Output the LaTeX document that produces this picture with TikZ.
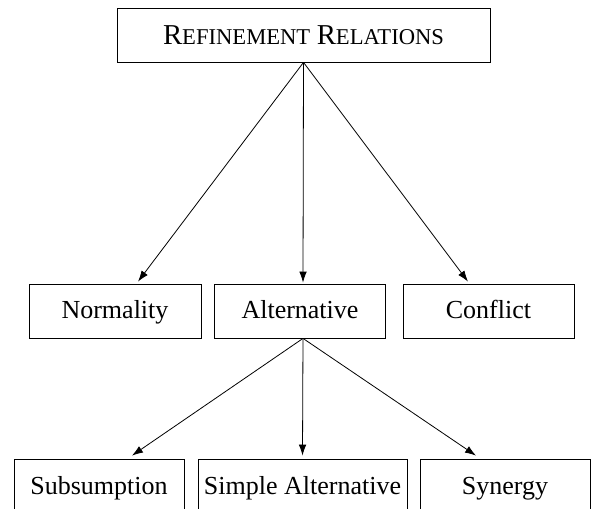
\documentclass[tikz,border=0pt]{standalone}
\usepackage{fontspec}
\setmainfont{Liberation Serif}
\usetikzlibrary{arrows.meta}
\newcommand{\bigsc}[1]{{\fontsize{14.4}{16}\selectfont #1}}
\newcommand{\fakesc}[1]{{\fontsize{11.3}{13}\selectfont #1}}
\tikzset{
  relbox/.style={draw, thin, inner sep=0pt, minimum height=27pt,
    text height=9pt, text depth=2pt, font=\fontsize{13}{15}\selectfont},
  relarrow/.style={thin, -{Latex[length=5.5pt,width=3.8pt]}}
}
\begin{document}
\begin{tikzpicture}[x=0.5pt, y=-0.5pt]
\useasboundingbox (0,0) rectangle (591,509);
\node[relbox, minimum width=186.5pt, text height=9.5pt, text depth=0.5pt] (top) at (303.5,35) {\bigsc{R}\fakesc{EFINEMENT} \bigsc{R}\fakesc{ELATIONS}};
\node[relbox, minimum width=86pt] (norm) at (115,311) {Normality};
\node[relbox, minimum width=85.5pt] (alt) at (300,311) {Alternative};
\node[relbox, minimum width=85.5pt] (conf) at (488.5,311) {Conflict};
\node[relbox, minimum width=85pt, minimum height=28pt] (subs) at (99,487) {Subsumption};
\node[relbox, minimum width=104.5pt, minimum height=28pt] (simp) at (302.5,487) {Simple Alternative};
\node[relbox, minimum width=85pt, minimum height=28pt] (syn) at (505,487) {Synergy};
\draw[relarrow] (top.south) -- ([xshift=11.5pt, yshift=1pt]norm.north);
\draw[relarrow] (top.south) -- ([xshift=1.5pt, yshift=0.5pt]alt.north);
\draw[relarrow] (top.south) -- ([xshift=-10.25pt, yshift=1pt]conf.north);
\draw[relarrow] ([xshift=1.5pt]alt.south) -- ([xshift=16.5pt, yshift=1.5pt]subs.north);
\draw[relarrow] ([xshift=1.5pt]alt.south) -- ([yshift=1.5pt]simp.north);
\draw[relarrow] ([xshift=1.5pt]alt.south) -- ([xshift=-14.5pt, yshift=1.5pt]syn.north);
\end{tikzpicture}
\end{document}
